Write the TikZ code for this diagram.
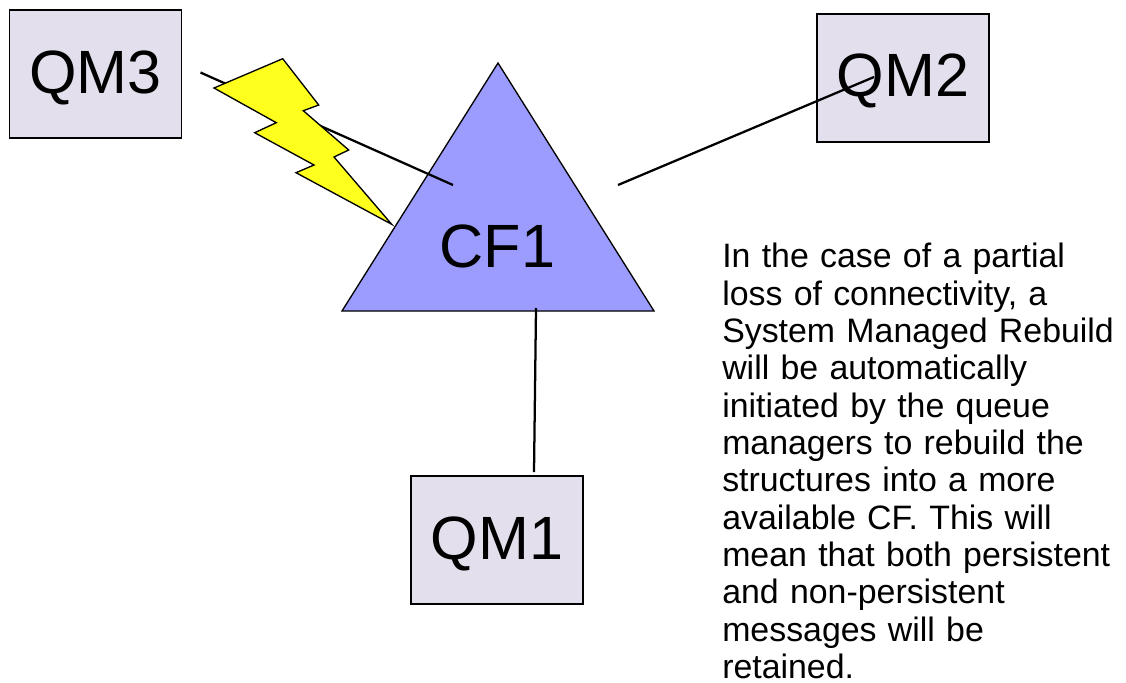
\documentclass[tikz,border=0pt]{standalone}
\usepackage{fontspec}
\setmainfont{Liberation Sans}
\definecolor{qmfill}{HTML}{E3DFEC}
\definecolor{cffill}{HTML}{9C9CFF}
\definecolor{bolt}{HTML}{FFFF1E}
\newdimen\pxu
\pxu=0.0264583cm
\tikzset{x=\pxu,y=-\pxu,
 qmbox/.style={draw=black,line width=0.9pt,fill=qmfill,minimum width=172\pxu,minimum height=128\pxu,inner sep=0pt},
 qmtext/.style={inner sep=0pt,font=\fontsize{46}{47}\selectfont},
 link/.style={draw=black,line width=1.7pt},
 para/.style={inner sep=0pt,anchor=north west,align=left,text width=400\pxu,text depth=0pt,font=\fontsize{25.5}{28.1}\selectfont}}
\begin{document}
\begin{tikzpicture}
\useasboundingbox (0,0) rectangle (1126,682);
\draw[draw=black,line width=1pt,fill=cffill] (498,63) -- (654,311) -- (342,311) -- cycle;
\node[qmtext] (cf) at (497.5,246) {CF1};
\coordinate (cfa) at (453,185);
\coordinate (cfb) at (618,185);
\coordinate (cfc) at (536,308);
\node[qmbox] (qm3) at (95.5,74) {};
\node[qmbox] (qm2) at (903,78) {};
\node[qmbox] (qm1) at (497,540) {};
\node[qmtext] (qm3t) at (95.5,78) {QM3};
\node[qmtext] (qm2t) at (903,81) {QM2};
\node[qmtext] (qm1t) at (497,544) {QM1};
\coordinate (q3) at (200.5,72.5);
\coordinate (q2) at (874,77);
\coordinate (q1) at (534,472);
\draw[link] (q3) -- (cfa);
\draw[link] (q2) -- (cfb);
\draw[link] (q1) -- (cfc);
\draw[draw=black,line width=1pt,fill=bolt] (214,88) -- (282.7,58.7) -- (318.7,105) -- (303.3,110.7) -- (348.7,150) -- (334,157) -- (391.7,224.3) -- (296,172.7) -- (314,165) -- (254.7,132.7) -- (276.3,122.7) -- cycle;
\node[para] (txt) at (722,243) {In the case of a partial\\loss of connectivity, a\\System Managed Rebuild\\will be automatically\\initiated by the queue\\managers to rebuild the\\structures into a more\\available CF. This will\\mean that both persistent\\and non-persistent\\messages will be\\retained.};
\end{tikzpicture}
\end{document}
